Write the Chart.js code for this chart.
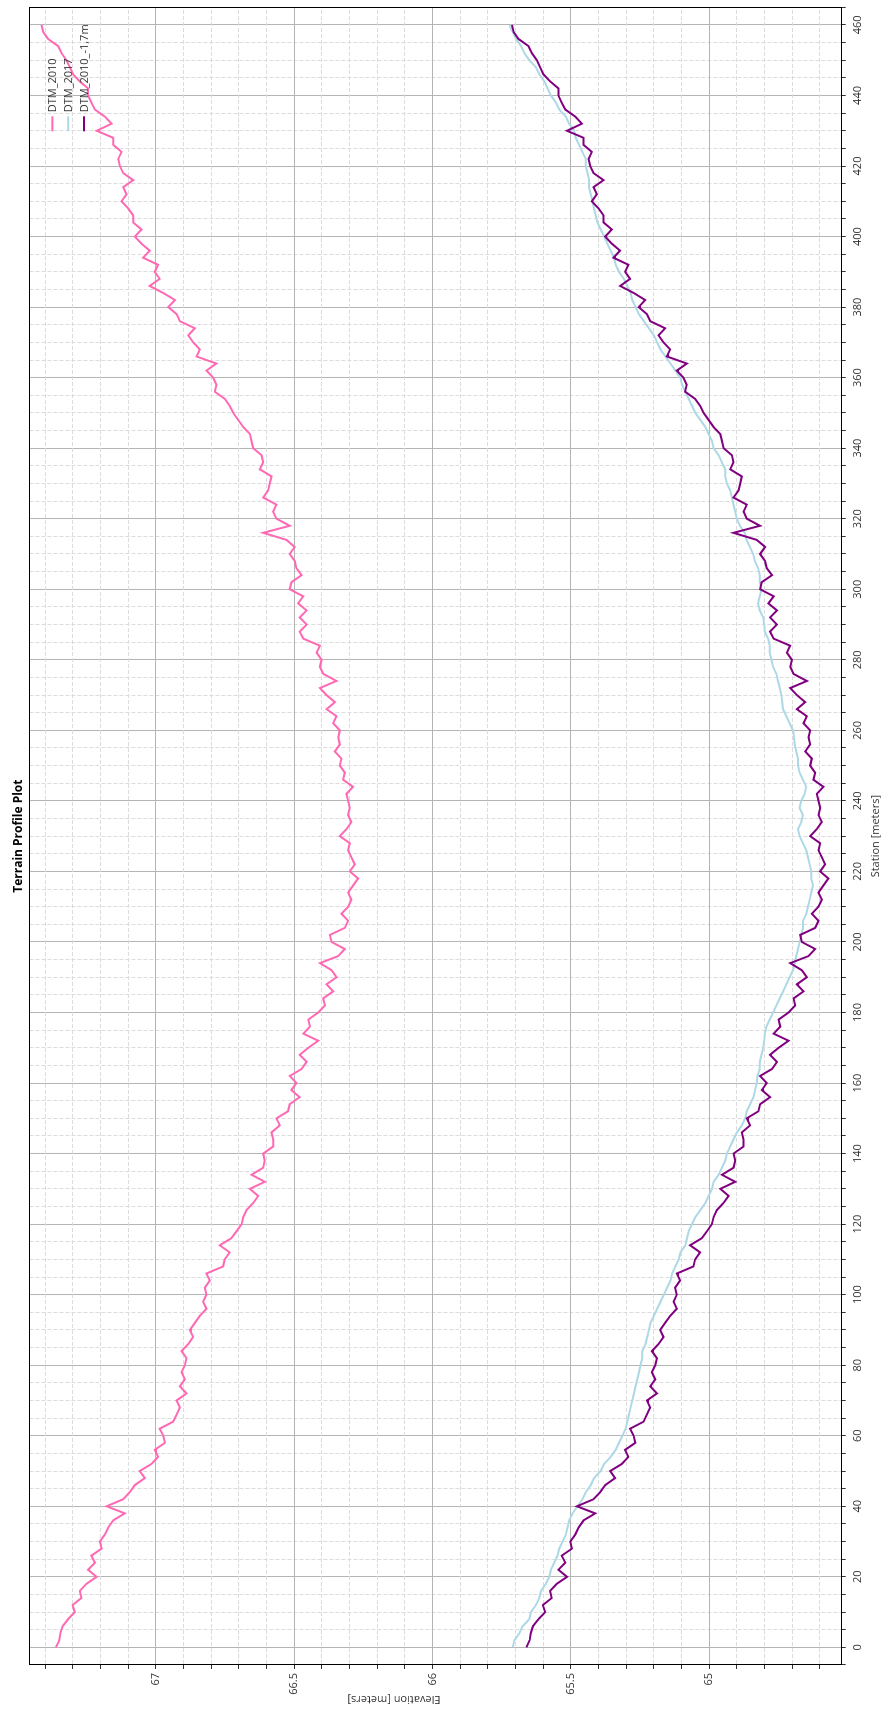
<!DOCTYPE html>
<html lang="en">
<head>
    <meta charset="UTF-8">
    <title>Terrain Profile Plot</title>
    <script src="https://cdn.jsdelivr.net/npm/chart.js"></script>
    <style>
        body {
            margin: 0;
            background: #fff;
        }
        #wrap {
            position: relative;
            width: 882px;
            height: 1710px;
            overflow: hidden;
        }
        /* plot is drawn landscape and turned a quarter to the left */
        #profileChart {
            position: absolute;
            left: -414px;
            top: 414px;
            transform: rotate(-90deg);
        }
    </style>
</head>
<body>

<div id="wrap">
    <canvas id="profileChart" width="1710" height="882"></canvas>
</div>

<script>
    // profile sampled every 2 m along the section line
    const sampleStep = 2;

    const dtm2010 = [
        67.361, 67.349, 67.345, 67.337, 67.317, 67.293, 67.301, 67.269, 67.275, 67.251,
        67.214, 67.245, 67.220, 67.233, 67.196, 67.202, 67.184, 67.172, 67.154, 67.112,
        67.178, 67.118, 67.094, 67.076, 67.040, 67.058, 67.016, 66.992, 67.004, 66.967,
        66.973, 66.986, 66.937, 66.925, 66.913, 66.925, 66.889, 66.913, 66.895, 66.907,
        66.895, 66.889, 66.907, 66.883, 66.865, 66.877, 66.859, 66.841, 66.817, 66.829,
        66.817, 66.823, 66.805, 66.817, 66.757, 66.751, 66.733, 66.769, 66.727, 66.708,
        66.690, 66.684, 66.672, 66.648, 66.630, 66.660, 66.606, 66.654, 66.612, 66.606,
        66.612, 66.576, 66.576, 66.582, 66.552, 66.564, 66.522, 66.516, 66.480, 66.510,
        66.492, 66.516, 66.473, 66.455, 66.480, 66.449, 66.413, 66.467, 66.443, 66.449,
        66.413, 66.389, 66.395, 66.359, 66.383, 66.347, 66.365, 66.407, 66.341, 66.317,
        66.365, 66.371, 66.317, 66.305, 66.329, 66.305, 66.293, 66.305, 66.287, 66.269,
        66.299, 66.281, 66.293, 66.305, 66.299, 66.335, 66.311, 66.293, 66.305, 66.299,
        66.305, 66.311, 66.287, 66.323, 66.317, 66.335, 66.329, 66.353, 66.335, 66.341,
        66.335, 66.359, 66.347, 66.383, 66.353, 66.383, 66.407, 66.347, 66.395, 66.407,
        66.401, 66.419, 66.407, 66.467, 66.480, 66.455, 66.480, 66.455, 66.486, 66.467,
        66.516, 66.510, 66.473, 66.492, 66.498, 66.516, 66.498, 66.528, 66.612, 66.516,
        66.564, 66.576, 66.564, 66.612, 66.594, 66.588, 66.582, 66.624, 66.612, 66.618,
        66.648, 66.654, 66.660, 66.684, 66.702, 66.720, 66.733, 66.751, 66.787, 66.781,
        66.793, 66.817, 66.781, 66.853, 66.841, 66.865, 66.883, 66.859, 66.913, 66.925,
        66.955, 66.931, 66.973, 67.022, 66.986, 67.004, 66.992, 67.046, 67.022, 67.052,
        67.076, 67.052, 67.082, 67.082, 67.100, 67.124, 67.106, 67.118, 67.082, 67.118,
        67.130, 67.136, 67.124, 67.154, 67.154, 67.214, 67.160, 67.184, 67.220, 67.233,
        67.245, 67.245, 67.275, 67.299, 67.311, 67.323, 67.341, 67.353, 67.389, 67.407,
        67.413
    ];

    const dtm2017 = [
        65.710, 65.704, 65.686, 65.674, 65.650, 65.644, 65.626, 65.614, 65.608, 65.590,
        65.578, 65.572, 65.560, 65.548, 65.542, 65.530, 65.518, 65.512, 65.506, 65.494,
        65.476, 65.458, 65.446, 65.428, 65.416, 65.392, 65.380, 65.356, 65.338, 65.326,
        65.314, 65.302, 65.296, 65.290, 65.284, 65.278, 65.272, 65.266, 65.260, 65.254,
        65.248, 65.242, 65.242, 65.230, 65.224, 65.218, 65.212, 65.200, 65.188, 65.176,
        65.164, 65.152, 65.140, 65.134, 65.122, 65.110, 65.104, 65.086, 65.080, 65.074,
        65.062, 65.050, 65.032, 65.014, 65.002, 64.990, 64.984, 64.966, 64.954, 64.942,
        64.936, 64.924, 64.912, 64.900, 64.882, 64.870, 64.864, 64.852, 64.840, 64.834,
        64.828, 64.825, 64.817, 64.817, 64.811, 64.805, 64.801, 64.799, 64.793, 64.781,
        64.769, 64.757, 64.745, 64.733, 64.721, 64.709, 64.697, 64.691, 64.685, 64.679,
        64.673, 64.667, 64.661, 64.661, 64.649, 64.643, 64.637, 64.631, 64.625, 64.631,
        64.631, 64.637, 64.643, 64.649, 64.661, 64.673, 64.679, 64.667, 64.661, 64.673,
        64.667, 64.655, 64.649, 64.661, 64.673, 64.679, 64.679, 64.685, 64.691, 64.693,
        64.697, 64.709, 64.721, 64.733, 64.736, 64.739, 64.745, 64.751, 64.757, 64.769,
        64.775, 64.781, 64.781, 64.787, 64.799, 64.801, 64.805, 64.817, 64.823, 64.817,
        64.811, 64.817, 64.817, 64.823, 64.835, 64.841, 64.853, 64.865, 64.871, 64.889,
        64.900, 64.906, 64.912, 64.918, 64.924, 64.936, 64.942, 64.942, 64.954, 64.966,
        64.984, 64.990, 65.002, 65.014, 65.032, 65.050, 65.062, 65.074, 65.086, 65.098,
        65.104, 65.122, 65.140, 65.158, 65.176, 65.188, 65.200, 65.218, 65.236, 65.254,
        65.266, 65.278, 65.284, 65.296, 65.308, 65.326, 65.338, 65.344, 65.356, 65.368,
        65.380, 65.392, 65.404, 65.410, 65.416, 65.422, 65.428, 65.434, 65.434, 65.440,
        65.446, 65.446, 65.458, 65.470, 65.482, 65.488, 65.506, 65.518, 65.542, 65.554,
        65.572, 65.584, 65.596, 65.614, 65.626, 65.650, 65.668, 65.680, 65.698, 65.710,
        65.722
    ];

    // 2010 surface lowered by 1.7 m for comparison
    const shift2010 = -1.7;
    const dtm2010Lowered = dtm2010.map(v => +(v + shift2010).toFixed(3));

    const seriesLabels = ['DTM_2010', 'DTM_2017', 'DTM_2010_-1,7m'];
    const seriesColors = ['#ff69b4', '#add8e6', '#800080'];

    const stations = dtm2010.map((_, i) => i * sampleStep);
    const toPoints = vals => vals.map((v, i) => ({ x: stations[i], y: v }));

    const isMultiple = (v, step) => Math.abs(v / step - Math.round(v / step)) < 1e-6;

    Chart.defaults.font.family = '"Open Sans", sans-serif';
    Chart.defaults.font.size = 11;
    Chart.defaults.color = '#333';

    // black frame round the plot area
    const plotFrame = {
        id: 'plotFrame',
        afterDraw(chart) {
            const { ctx, chartArea: a } = chart;
            const l = Math.round(a.left) + 0.5, t = Math.round(a.top) + 0.5;
            const r = Math.round(a.right) - 0.5, b = Math.round(a.bottom) - 0.5;
            ctx.save();
            ctx.strokeStyle = '#000';
            ctx.lineWidth = 1;
            ctx.strokeRect(l, t, r - l, b - t);
            ctx.restore();
        }
    };

    // small legend sitting inside the top right corner
    const cornerLegend = {
        id: 'cornerLegend',
        afterDraw(chart) {
            const { ctx, chartArea: a } = chart;
            ctx.save();
            ctx.font = '11px "Open Sans", sans-serif';
            ctx.textBaseline = 'middle';
            chart.data.datasets.forEach((ds, i) => {
                const x = a.right - 124;
                const y = a.top + 23 + i * 15.8;
                ctx.strokeStyle = ds.borderColor;
                ctx.lineWidth = 2;
                ctx.beginPath();
                ctx.moveTo(x, y);
                ctx.lineTo(x + 15, y);
                ctx.stroke();
                ctx.fillStyle = '#333';
                ctx.fillText(ds.label, x + 19, y + 0.5);
            });
            ctx.restore();
        }
    };

    // elevation axis title, set a little toward the lower end of the axis
    const elevationTitle = {
        id: 'elevationTitle',
        afterDraw(chart) {
            const { ctx } = chart;
            ctx.save();
            ctx.translate(11, 394);
            ctx.rotate(-Math.PI / 2);
            ctx.font = '11px "Open Sans", sans-serif';
            ctx.fillStyle = '#333';
            ctx.textAlign = 'center';
            ctx.textBaseline = 'middle';
            ctx.fillText('Elevation [meters]', 0, 0);
            ctx.restore();
        }
    };

    const ctx = document.getElementById('profileChart').getContext('2d');

    new Chart(ctx, {
        type: 'line',
        data: {
            datasets: [
                { label: seriesLabels[0], data: toPoints(dtm2010), borderColor: seriesColors[0], order: 2 },
                { label: seriesLabels[1], data: toPoints(dtm2017), borderColor: seriesColors[1], order: 1 },
                { label: seriesLabels[2], data: toPoints(dtm2010Lowered), borderColor: seriesColors[2], order: 0 }
            ]
        },
        options: {
            responsive: false,
            animation: false,
            devicePixelRatio: 1,
            layout: { padding: { left: 0, right: 7.3, top: 0, bottom: 0 } },
            elements: {
                line: { borderWidth: 2, tension: 0, fill: false },
                point: { radius: 0 }
            },
            plugins: {
                legend: { display: false },
                tooltip: { enabled: false },
                title: {
                    display: true,
                    text: 'Terrain Profile Plot',
                    fullSize: false,
                    color: '#000',
                    font: { size: 12, weight: 'bold' },
                    padding: { top: 11, bottom: 4 }
                }
            },
            scales: {
                x: {
                    type: 'linear',
                    position: 'bottom',
                    min: -5,
                    max: 465,
                    afterFit: s => { s.height = 40.3; },
                    ticks: {
                        stepSize: 5,
                        autoSkip: false,
                        maxRotation: 0,
                        includeBounds: false,
                        padding: 6,
                        callback: v => isMultiple(v, 20) ? String(Math.round(v)) : ''
                    },
                    grid: {
                        color: c => c.tick && isMultiple(c.tick.value, 20) ? '#b4b4b4' : '#dcdcdc',
                        tickColor: '#333',
                        tickLength: 4
                    },
                    border: {
                        color: '#000',
                        dash: c => c.tick && !isMultiple(c.tick.value, 20) ? [4, 2] : []
                    },
                    title: {
                        display: true,
                        text: 'Station [meters]',
                        padding: { top: 0, bottom: 0 }
                    }
                },
                y: {
                    type: 'linear',
                    position: 'left',
                    min: 64.521,
                    max: 67.457,
                    afterFit: s => { s.width = 45; },
                    ticks: {
                        stepSize: 0.1,
                        autoSkip: false,
                        includeBounds: false,
                        padding: 4,
                        callback: v => isMultiple(v, 0.5) ? String(Math.round(v * 10) / 10) : ''
                    },
                    grid: {
                        color: c => c.tick && isMultiple(c.tick.value, 0.5) ? '#b4b4b4' : '#dcdcdc',
                        tickColor: '#333',
                        tickLength: 4
                    },
                    border: {
                        color: '#000',
                        dash: c => c.tick && !isMultiple(c.tick.value, 0.5) ? [4, 2] : []
                    },
                    title: { display: false }
                }
            }
        },
        plugins: [plotFrame, cornerLegend, elevationTitle]
    });
</script>

</body>
</html>
